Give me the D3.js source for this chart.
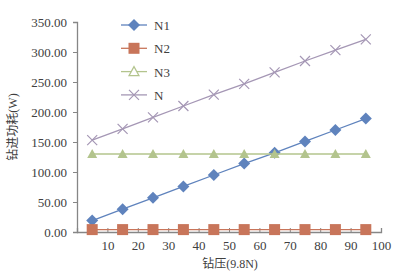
<!DOCTYPE html>
<html>
<head>
<meta charset="utf-8">
<script src="https://cdn.jsdelivr.net/npm/d3@7"></script>
<style>
  body { margin: 0; background: #fff; }
  text { font-family: "Liberation Serif", "Noto Sans CJK SC", serif; fill: #404040; }
</style>
</head>
<body>
<script>
"use strict";
// data
const xs = [5, 15, 25, 35, 45, 55, 65, 75, 85, 95];
const n1 = [19, 38, 57, 76, 95, 114, 132, 151, 170, 189];
const n2 = [4, 4, 4, 4, 4, 4, 4, 4, 4, 4];
const n3 = [130, 130, 130, 130, 130, 130, 130, 130, 130, 130];
const nTotal = [153, 172, 191, 210, 229, 247, 266, 285, 303, 321];
const seriesNames = ["N1", "N2", "N3", "N"];
const xTicks = [10, 20, 30, 40, 50, 60, 70, 80, 90, 100];
const yTicks = [0, 50, 100, 150, 200, 250, 300, 350];

const series = [
  { name: "N1", values: n1, color: "#5f83bd", marker: "diamond" },
  { name: "N2", values: n2, color: "#c8755a", marker: "square" },
  { name: "N3", values: n3, color: "#b3c48d", marker: "triangle" },
  { name: "N", values: nTotal, color: "#a597b5", marker: "cross" }
];

const W = 402, H = 277;
const svg = d3.select("body").append("svg").attr("width", W).attr("height", H);

const x = d3.scaleLinear().domain([0, 100]).range([77, 381]);
const y = d3.scaleLinear().domain([0, 350]).range([232, 22]);
const axisColor = "#868686";

// y axis
const yAxis = svg.append("g").attr("transform", "translate(77,0)")
  .call(d3.axisLeft(y).tickValues(yTicks).tickSize(4).tickPadding(6).tickFormat(d3.format(".2f")));
// x axis, ticks point up into the plot
const xAxis = svg.append("g").attr("transform", "translate(0,232)")
  .call(d3.axisBottom(x).tickValues(xTicks).tickSize(-4).tickPadding(9).tickFormat(d => d));

[xAxis, yAxis].forEach(g => {
  g.select(".domain").attr("stroke", axisColor).attr("stroke-width", 1.3);
  g.selectAll(".tick line").attr("stroke", axisColor);
  g.selectAll("text").attr("font-size", 13).attr("fill", "#404040")
    .style("font-family", "'Liberation Serif', serif");
});

// axis titles
svg.append("text").attr("x", 230).attr("y", 268).attr("text-anchor", "middle")
  .attr("font-size", 12).text("钻压(9.8N)");
svg.append("text").attr("transform", "translate(17,127) rotate(-90)").attr("text-anchor", "middle")
  .attr("font-size", 12).text("钻进功耗(W)");

function drawMarker(g, type, cx, cy, color) {
  if (type === "diamond") {
    g.append("path").attr("d", `M${cx},${cy - 6}L${cx + 6},${cy}L${cx},${cy + 6}L${cx - 6},${cy}Z`)
      .attr("fill", color);
  } else if (type === "square") {
    g.append("rect").attr("x", cx - 5.5).attr("y", cy - 5.5).attr("width", 11).attr("height", 11)
      .attr("fill", color);
  } else if (type === "triangle") {
    g.append("path").attr("d", `M${cx},${cy - 5}L${cx + 5},${cy + 4}L${cx - 5},${cy + 4}Z`)
      .attr("fill", color);
  } else {
    g.append("path").attr("d", `M${cx - 5},${cy - 5}L${cx + 5},${cy + 5}M${cx - 5},${cy + 5}L${cx + 5},${cy - 5}`)
      .attr("stroke", color).attr("stroke-width", 1.2).attr("fill", "none");
  }
}

const line = d3.line().x(d => x(d[0])).y(d => y(d[1]));

series.forEach(s => {
  const pts = xs.map((v, i) => [v, s.values[i]]);
  const g = svg.append("g");
  g.append("path").datum(pts).attr("d", line).attr("fill", "none")
    .attr("stroke", s.color).attr("stroke-width", 1.3);
  pts.forEach(p => drawMarker(g, s.marker, x(p[0]), y(p[1]), s.color));
});

// legend
const legend = svg.append("g");
series.forEach((s, i) => {
  const ly = 25 + i * 23.3;
  legend.append("line").attr("x1", 121).attr("x2", 147).attr("y1", ly).attr("y2", ly)
    .attr("stroke", s.color).attr("stroke-width", 1.3);
  if (s.marker === "triangle") {
    legend.append("path").attr("d", `M134,${ly - 5}L139,${ly + 4}L129,${ly + 4}Z`)
      .attr("fill", "#fff").attr("stroke", s.color).attr("stroke-width", 1.2);
  } else {
    drawMarker(legend, s.marker, 134, ly, s.color);
  }
  legend.append("text").attr("x", 154).attr("y", ly + 5).attr("font-size", 13).text(seriesNames[i]);
});
</script>
</body>
</html>
